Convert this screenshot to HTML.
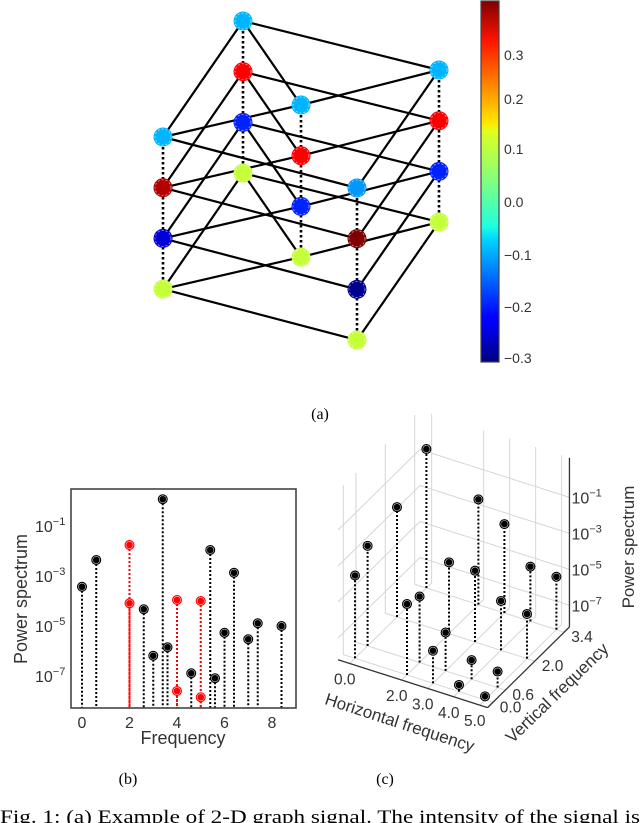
<!DOCTYPE html>
<html><head><meta charset="utf-8"><style>
body{margin:0;background:#fff;}
svg{display:block;font-family:"Liberation Sans",sans-serif;}
.serif{font-family:"Liberation Serif",serif;}
</style></head><body>
<svg id="fig" width="640" height="823" viewBox="0 0 640 823" xmlns="http://www.w3.org/2000/svg">
<defs>
<linearGradient id="jet" x1="0" y1="1" x2="0" y2="0">
<stop offset="0" stop-color="#00007f"/><stop offset="0.11" stop-color="#0000ff"/>
<stop offset="0.125" stop-color="#0000ff"/><stop offset="0.34" stop-color="#00d4ff"/>
<stop offset="0.375" stop-color="#1fffe0"/><stop offset="0.5" stop-color="#80ff80"/>
<stop offset="0.64" stop-color="#e0ff1f"/><stop offset="0.66" stop-color="#ffea00"/>
<stop offset="0.89" stop-color="#ff1300"/><stop offset="1" stop-color="#800000"/>
</linearGradient>
</defs>
<g id="graphA"></g>
<g>
<rect x="481" y="1" width="18" height="361" fill="url(#jet)" stroke="#444" stroke-width="1.2"/>
<g font-size="14" fill="#333">
<text x="504" y="60">0.3</text><text x="504" y="104">0.2</text><text x="504" y="154">0.1</text>
<text x="504" y="207">0.0</text><text x="504" y="260">−0.1</text><text x="504" y="312">−0.2</text><text x="504" y="363">−0.3</text>
</g></g>
<text class="serif" x="320" y="419" font-size="16" text-anchor="middle">(a)</text>
<g id="plotB"></g>
<g id="plotC"></g>
<text class="serif" x="128" y="784" font-size="16" text-anchor="middle">(b)</text>
<text class="serif" x="385" y="784" font-size="16" text-anchor="middle">(c)</text>
<text class="serif" x="0" y="823" font-size="19" textLength="640" lengthAdjust="spacingAndGlyphs">Fig. 1: (a) Example of 2-D graph signal. The intensity of the signal is</text>
</svg>
<script>
const NS="http://www.w3.org/2000/svg";
function mk(tag,attrs,parent){const e=document.createElementNS(NS,tag);for(const k in attrs)e.setAttribute(k,attrs[k]);parent.appendChild(e);return e;}

// ---------- (a) graph signal ----------
const colNames=["D","A","C","E","B"];
const colX=[163,243,301,357,439];
const colTopY=[137,21,105,188,70];
const layerGap=50.7;
const layerValues=[
 [-0.1,-0.1,-0.1,-0.12,-0.1],
 [0.35,0.3,0.3,0.385,0.3],
 [-0.25,-0.2,-0.2,-0.3,-0.2],
 [0.085,0.085,0.085,0.085,0.085]
];
const edges=[["A","D"],["A","B"],["D","E"],["E","B"],["A","C"],["C","B"],["D","C"]];
const vmin=-0.31,vmax=0.385;
function clamp(x){return Math.max(0,Math.min(1,x));}
function jet(v){const t=(v-vmin)/(vmax-vmin);const r=clamp(1.5-Math.abs(4*t-3)),g=clamp(1.5-Math.abs(4*t-2)),b=clamp(1.5-Math.abs(4*t-1));return `rgb(${Math.round(r*255)},${Math.round(g*255)},${Math.round(b*255)})`;}
const gA=document.getElementById('graphA');
function nodePos(l,c){return [colX[c],colTopY[c]+l*layerGap];}
for(let l=0;l<layerValues.length;l++){
  for(const [a,b] of edges){
    const p=nodePos(l,colNames.indexOf(a)),q=nodePos(l,colNames.indexOf(b));
    const e=mk('line',{x1:p[0],y1:p[1],x2:q[0],y2:q[1],stroke:'#000','stroke-width':2.2},gA);
    
    
  }
}
for(let c=0;c<colX.length;c++){
  const p=nodePos(0,c),q=nodePos(layerValues.length-1,c);
  const e=mk('line',{x1:p[0],y1:p[1],x2:q[0],y2:q[1],stroke:'#000','stroke-width':2.6,'stroke-dasharray':'2.5,2.5'},gA);
  
  
}
for(let l=0;l<layerValues.length;l++)for(let c=0;c<colX.length;c++){
  const p=nodePos(l,c);
  const n=mk('circle',{cx:p[0],cy:p[1],r:9.5,fill:jet(layerValues[l][c])},gA);
  
  
  mk('circle',{cx:p[0],cy:p[1],r:8,fill:'none',stroke:'#fff','stroke-width':0.7,'stroke-dasharray':'2,2',opacity:0.7},gA);
}

// ---------- (b) power spectrum ----------
const blackFreq=[0,0.6,2.6,3,3.4,3.6,4.6,5.4,5.6,6,6.4,7,7.4,8.4];
const blackLog=[-3.43,-2.36,-4.33,-6.19,0.07,-5.85,-6.89,-1.96,-7.09,-5.27,-2.87,-5.53,-4.89,-5.0];
const redFreq=[2,2,4,4,5,5];
const redLog=[-1.76,-4.09,-3.96,-7.6,-4.0,-7.85];
const xTicksB=[0,2,4,6,8];
const yTicksB=[-1,-3,-5,-7];
const gB=document.getElementById('plotB');
const B={l:71,r:296,t:489,b:708};
function xB(f){return 82+f*23.75;}
function yB(lg){return 676-(lg+7)*25;}
function drawStem(g,f,lg,col,name){
  const s=mk('line',{x1:xB(f),y1:yB(lg),x2:xB(f),y2:B.b,stroke:col,'stroke-width':2,'stroke-dasharray':'2,2'},g);
  
  
  const m=mk('circle',{cx:xB(f),cy:yB(lg),r:5,fill:col},g);
  
  
  mk('circle',{cx:xB(f),cy:yB(lg),r:3.6,fill:'none',stroke:'#fff','stroke-width':0.6,opacity:0.8},g);
}
for(let i=0;i<blackFreq.length;i++)drawStem(gB,blackFreq[i],blackLog[i],'#000','spectrum');
for(let i=0;i<redFreq.length;i++)drawStem(gB,redFreq[i],redLog[i],'#f00','highlight');
const fr=mk('rect',{x:B.l,y:B.t,width:B.r-B.l,height:B.b-B.t,fill:'none',stroke:'#444','stroke-width':1.6},gB);


for(const t of xTicksB){
  const tx=mk('text',{x:xB(t),y:B.b+20,'font-size':16,fill:'#333','text-anchor':'middle'},gB);tx.textContent=t;
  
  
}
for(const t of yTicksB){
  const tx=mk('text',{x:35,y:yB(t)+6,'font-size':16,fill:'#333'},gB);
  tx.innerHTML='10<tspan dy="-7" font-size="11">'+(t<0?'−':'')+Math.abs(t)+'</tspan>';
  
  
}
let lb=mk('text',{x:183,y:744,'font-size':18,fill:'#333','text-anchor':'middle'},gB);lb.textContent='Frequency';


lb=mk('text',{x:0,y:0,'font-size':18,fill:'#333','text-anchor':'middle',transform:'translate(27,599) rotate(-90)'},gB);lb.textContent='Power spectrum';



// ---------- (c) 3D power spectrum ----------
const hFreq=[0,2,3,4,5];
const vFreq=[0,0.6,2,3.4];
const powerLog=[ // rows: h, cols: v
 [-3.6,-2.64,-2.1,-0.48],
 [-4.26,-4.53,-4.24,-2.35],
 [-6.39,-6.07,-4.24,-3.26],
 [-7.83,-7.14,-5.46,-5.16],
 [-8.0,-7.31,-5.72,-5.26]
];
const hTickLabels=["0.0","2.0","3.0","4.0","5.0"];
const vTickLabels=["0.0","0.6","2.0","3.4"];
const zTicks=[-1,-3,-5,-7];
const zFloor=-8.2,zTop=1.2,hLo=-0.45,hHi=5.3,vLo=-0.25,vHi=3.65;
const gC=document.getElementById('plotC');
function P(h,v,z){return [355+h*26+v*21, 658.3+h*8.33-v*20.67-(z-zFloor)*18];}
function ln(a,b,attrs,name){const e=mk('line',Object.assign({x1:a[0],y1:a[1],x2:b[0],y2:b[1]},attrs),gC);
  
  return e;}
const grid={stroke:'#d6d6d6','stroke-width':1};
for(const v of vFreq)ln(P(hLo,v,zFloor),P(hLo,v,zTop),grid,'grid-line');
for(const z of zTicks)ln(P(hLo,vLo,z),P(hLo,vHi,z),grid,'grid-line');
for(const h of hFreq)ln(P(h,vHi,zFloor),P(h,vHi,zTop),grid,'grid-line');
for(const z of zTicks)ln(P(hLo,vHi,z),P(hHi,vHi,z),grid,'grid-line');
for(const h of hFreq)ln(P(h,vLo,zFloor),P(h,vHi,zFloor),grid,'grid-line');
for(const v of vFreq)ln(P(hLo,v,zFloor),P(hHi,v,zFloor),grid,'grid-line');
const ax={stroke:'#333','stroke-width':1.3};
ln(P(hLo,vLo,zFloor),P(hHi,vLo,zFloor),ax,'horizontal-axis-line');
ln(P(hHi,vLo,zFloor),P(hHi,vHi,zFloor),ax,'vertical-axis-line');
ln(P(hHi,vHi,zFloor),P(hHi,vHi,zTop),ax,'power-axis-line');
const order=[];
for(let i=0;i<hFreq.length;i++)for(let j=0;j<vFreq.length;j++)order.push([i,j]);
order.sort((a,b)=>(b[1]-a[1])||(a[0]-b[0]));
for(const [i,j] of order){
  const base=P(hFreq[i],vFreq[j],zFloor),top=P(hFreq[i],vFreq[j],powerLog[i][j]);
  ln(base,top,{stroke:'#000','stroke-width':2,'stroke-dasharray':'2,2'},'stem-3d');
  const m=mk('circle',{cx:top[0],cy:top[1],r:5,fill:'#000'},gC);
  
  
  mk('circle',{cx:top[0],cy:top[1],r:3.6,fill:'none',stroke:'#fff','stroke-width':0.6,opacity:0.8},gC);
}
for(let i=0;i<hFreq.length;i++){
  const p=P(hFreq[i],vLo,zFloor);
  const t=mk('text',{x:p[0]-5,y:p[1]+21,'font-size':15.5,fill:'#333','text-anchor':'middle'},gC);t.textContent=hTickLabels[i];
  
  
}
for(let j=0;j<vFreq.length;j++){
  const p=P(hHi,vFreq[j],zFloor);
  const t=mk('text',{x:p[0]+7,y:p[1]+10,'font-size':15.5,fill:'#333'},gC);t.textContent=vTickLabels[j];
  
  
}
for(const z of zTicks){
  const p=P(hHi,vHi,z);
  const t=mk('text',{x:p[0]+2,y:p[1]+6,'font-size':16,fill:'#333'},gC);
  t.innerHTML='10<tspan dy="-7" font-size="11">−'+Math.abs(z)+'</tspan>';
  
  
}
let t3=mk('text',{x:0,y:0,'font-size':17,fill:'#333','text-anchor':'middle',transform:'translate(398,728) rotate(18)'},gC);t3.textContent='Horizontal frequency';


t3=mk('text',{x:0,y:0,'font-size':17,fill:'#333','text-anchor':'middle',transform:'translate(561,697) rotate(-44)'},gC);t3.textContent='Vertical frequency';


t3=mk('text',{x:0,y:0,'font-size':17,fill:'#333','text-anchor':'middle',transform:'translate(634,547) rotate(-90)'},gC);t3.textContent='Power spectrum';


</script>
</body></html>
